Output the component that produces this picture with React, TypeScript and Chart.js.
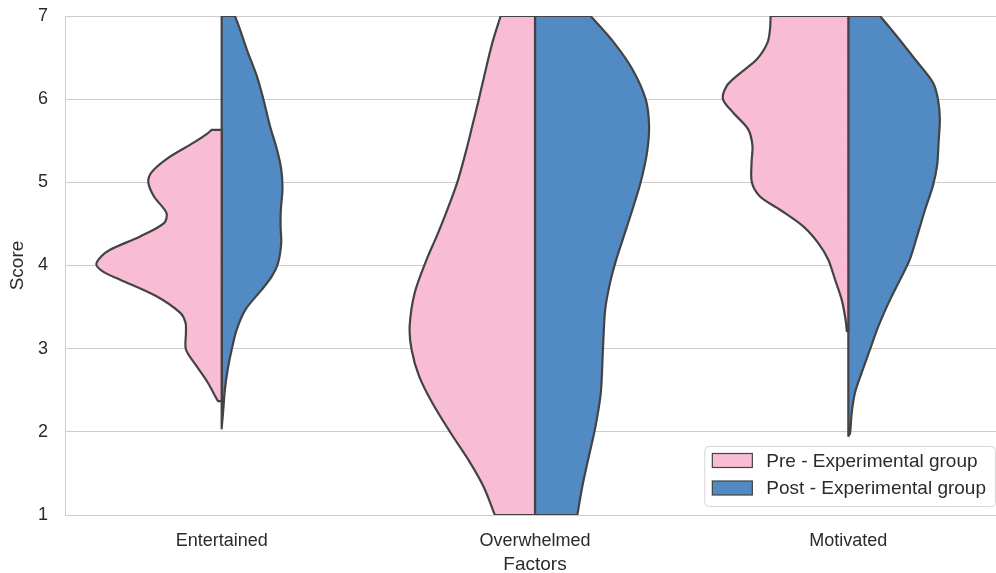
import React, { useEffect, useRef } from 'react';
import { Chart, registerables } from 'chart.js';

Chart.register(...registerables);

const factors = ['Entertained', 'Overwhelmed', 'Motivated'];
const groups = ['Pre - Experimental group', 'Post - Experimental group'];
const groupFill = ['#f8bdd4', '#528ac3'];
const scoreTicks = [1, 2, 3, 4, 5, 6, 7];

// Density outlines per half violin: [score, relative width (1 = widest half)]
const entertainedPre: [number, number][] = [
  [2.37, 0.03], [2.41, 0.045], [2.59, 0.11], [2.79, 0.2], [2.99, 0.285], [3.19, 0.285],
  [3.31, 0.288], [3.43, 0.33], [3.63, 0.52], [3.83, 0.81], [3.92, 0.94], [4.01, 1.0],
  [4.11, 0.96], [4.19, 0.89], [4.35, 0.65], [4.51, 0.46], [4.63, 0.44], [4.83, 0.54],
  [5.0, 0.585], [5.12, 0.56], [5.28, 0.44], [5.48, 0.22], [5.58, 0.12], [5.63, 0.08],
];
const entertainedPost: [number, number][] = [
  [2.04, 0.0], [2.27, 0.013], [2.51, 0.026], [2.75, 0.048], [2.99, 0.08], [3.23, 0.12],
  [3.47, 0.19], [3.71, 0.32], [3.87, 0.4], [4.03, 0.45], [4.27, 0.475], [4.47, 0.47],
  [4.67, 0.472], [4.92, 0.485], [5.16, 0.475], [5.4, 0.44], [5.68, 0.385], [6.0, 0.333],
  [6.28, 0.28], [6.6, 0.2], [6.84, 0.146], [7.0, 0.106],
];
const overwhelmedPre: [number, number][] = [
  [1.0, 0.32], [1.34, 0.41], [1.66, 0.53], [1.98, 0.67], [2.35, 0.82], [2.67, 0.925],
  [2.99, 0.985], [3.27, 1.0], [3.67, 0.96], [4.07, 0.865], [4.35, 0.785], [4.67, 0.7],
  [5.0, 0.62], [5.36, 0.553], [5.68, 0.5], [6.0, 0.448], [6.28, 0.405], [6.68, 0.34],
  [7.0, 0.274],
];
const overwhelmedPost: [number, number][] = [
  [1.0, 0.338], [1.34, 0.377], [1.66, 0.423], [2.06, 0.482], [2.47, 0.525], [2.99, 0.542],
  [3.47, 0.56], [3.8, 0.6], [4.07, 0.648], [4.35, 0.708], [4.67, 0.777], [5.0, 0.843],
  [5.36, 0.894], [5.68, 0.91], [6.0, 0.883], [6.36, 0.777], [6.68, 0.63], [7.0, 0.444],
];
const motivatedPre: [number, number][] = [
  [3.21, 0.012], [3.35, 0.022], [3.59, 0.053], [3.83, 0.106], [4.07, 0.16], [4.27, 0.24],
  [4.47, 0.36], [4.67, 0.545], [4.83, 0.705], [5.0, 0.77], [5.24, 0.772], [5.44, 0.765],
  [5.64, 0.8], [5.84, 0.92], [6.0, 1.0], [6.16, 0.97], [6.28, 0.89], [6.48, 0.73],
  [6.68, 0.645], [6.84, 0.625], [7.0, 0.62],
];
const motivatedPost: [number, number][] = [
  [1.95, 0.0], [1.98, 0.013], [2.23, 0.027], [2.47, 0.053], [2.71, 0.106], [2.99, 0.173],
  [3.27, 0.24], [3.59, 0.333], [3.83, 0.413], [4.07, 0.49], [4.35, 0.548], [4.67, 0.612],
  [4.96, 0.675], [5.2, 0.708], [5.48, 0.72], [5.76, 0.73], [6.0, 0.715], [6.2, 0.675],
  [6.48, 0.532], [6.76, 0.385], [7.0, 0.253],
];

const preOutlines = [entertainedPre, overwhelmedPre, motivatedPre];
const postOutlines = [entertainedPost, overwhelmedPost, motivatedPost];

const HALF_WIDTH = 0.4; // widest half violin spans 0.4 of a category slot
const EDGE = '#434343';
const TEXT = '#2b2b2b';
const FONT_FAMILY = '"Liberation Sans", Arial, Helvetica, sans-serif';

// Closed outline of one half violin: centre line + density curve.
// Corner points are doubled so the spline stays straight at the flat ends.
function halfViolin(center: number, side: number, outline: [number, number][]) {
  const pts: { x: number; y: number }[] = [];
  const first = outline[0][0];
  const last = outline[outline.length - 1][0];
  pts.push({ x: center, y: first });
  outline.forEach(([score, dens], i) => {
    const p = { x: center + side * dens * HALF_WIDTH, y: score };
    pts.push(p);
    if (i === 0 || i === outline.length - 1) pts.push({ ...p });
  });
  pts.push({ x: center, y: last });
  pts.push({ x: center, y: last });
  pts.push({ x: center, y: first });
  return pts;
}

const datasets: any[] = [];
factors.forEach((_, i) => {
  [preOutlines[i], postOutlines[i]].forEach((outline, g) => {
    datasets.push({
      label: groups[g],
      data: halfViolin(i, g === 0 ? -1 : 1, outline),
      borderColor: EDGE,
      borderWidth: 2.2,
      backgroundColor: groupFill[g],
      fill: 'shape',
      tension: 0.3,
      pointRadius: 0,
      borderJoinStyle: 'round',
      borderCapStyle: 'round',
    });
  });
});

const groupLegend = {
  id: 'groupLegend',
  afterDraw(chart: any) {
    const { ctx, chartArea } = chart;
    ctx.save();
    ctx.font = `19px ${FONT_FAMILY}`;
    const textW = Math.max(...groups.map((g) => ctx.measureText(g).width));
    const right = chartArea.right - 10;
    const bottom = chartArea.bottom - 9;
    const width = 8 + 40 + 14 + textW + 9;
    const height = 60;
    const left = right - width;
    const top = bottom - height;

    ctx.beginPath();
    ctx.roundRect(left + 0.5, top + 0.5, width, height, 4);
    ctx.fillStyle = 'rgba(255,255,255,0.85)';
    ctx.fill();
    ctx.strokeStyle = '#d6d6d6';
    ctx.lineWidth = 1;
    ctx.stroke();

    const rows = [top + 14.5, top + 42];
    groups.forEach((g, i) => {
      const cy = rows[i];
      ctx.fillStyle = groupFill[i];
      ctx.fillRect(left + 8, cy - 7, 40, 14);
      ctx.strokeStyle = EDGE;
      ctx.lineWidth = 1.2;
      ctx.strokeRect(left + 8, cy - 7, 40, 14);
      ctx.fillStyle = TEXT;
      ctx.textBaseline = 'middle';
      ctx.textAlign = 'left';
      ctx.fillText(g, left + 62, cy + 1);
    });
    ctx.restore();
  },
};

export default function App() {
  const canvasRef = useRef<HTMLCanvasElement>(null);

  useEffect(() => {
    const canvas = canvasRef.current;
    if (!canvas) return;
    const tickFont = { family: FONT_FAMILY, size: 18 };
    const titleFont = { family: FONT_FAMILY, size: 19 };
    const chart = new Chart(canvas, {
      type: 'line',
      data: { datasets },
      plugins: [groupLegend],
      options: {
        responsive: false,
        animation: false,
        events: [],
        indexAxis: 'y',
        layout: { padding: { top: 16, right: 0, bottom: 0, left: 0 } },
        plugins: { legend: { display: false }, tooltip: { enabled: false } },
        elements: { point: { radius: 0 } },
        scales: {
          x: {
            type: 'linear',
            position: 'bottom',
            min: -0.5,
            max: 2.5,
            afterBuildTicks: (s: any) => {
              s.ticks = factors.map((_, i) => ({ value: i }));
            },
            afterFit: (s: any) => {
              s.height = 58;
              s.paddingLeft = 0;
              s.paddingRight = 0;
            },
            grid: { display: false },
            border: { display: true, color: '#cccccc', width: 1 },
            ticks: {
              autoSkip: false,
              maxRotation: 0,
              padding: 7,
              color: TEXT,
              font: tickFont,
              callback: (v: any) => factors[Math.round(Number(v))] ?? '',
            },
            title: {
              display: true,
              text: 'Factors',
              color: TEXT,
              font: titleFont,
              padding: { top: 0, bottom: -3 },
            },
          },
          y: {
            type: 'linear',
            position: 'left',
            min: 1,
            max: 7,
            afterBuildTicks: (s: any) => {
              s.ticks = scoreTicks.map((v) => ({ value: v }));
            },
            afterFit: (s: any) => {
              s.width = 65;
              s.paddingTop = 0;
              s.paddingBottom = 0;
            },
            grid: { color: '#cccccc', lineWidth: 1, drawTicks: false },
            border: { display: true, color: '#cccccc', width: 1 },
            ticks: {
              padding: 17,
              color: TEXT,
              font: tickFont,
              callback: (v: any) => String(v),
            },
            title: {
              display: true,
              text: 'Score',
              color: TEXT,
              font: titleFont,
              padding: { top: 6, bottom: 0 },
            },
          },
        },
      },
    } as any);
    return () => chart.destroy();
  }, []);

  return (
    <div
      style={{
        position: 'fixed',
        left: 0,
        top: 0,
        width: 996,
        height: 573,
        overflow: 'hidden',
        background: '#ffffff',
      }}
    >
      <canvas
        ref={canvasRef}
        width={1005}
        height={573}
        style={{ display: 'block', width: 1005, height: 573 }}
      />
    </div>
  );
}
